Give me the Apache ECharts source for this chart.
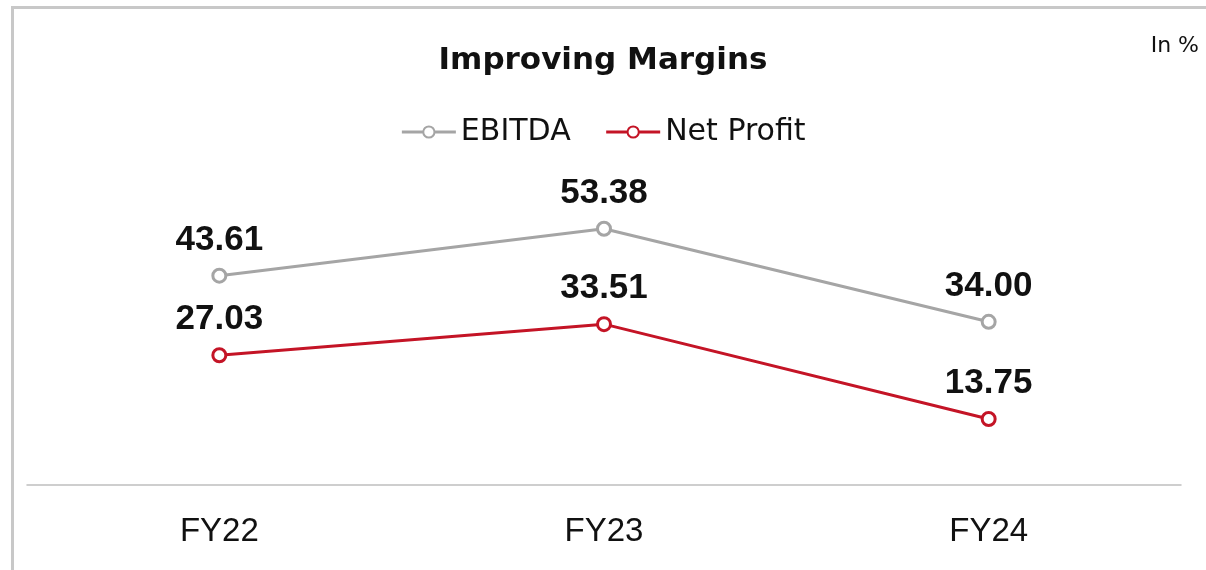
<!DOCTYPE html>
<html>
<head>
<meta charset="utf-8">
<script src="https://cdn.jsdelivr.net/npm/echarts@6/dist/echarts.min.js"></script>
<style>
  html, body { margin: 0; padding: 0; background: #fff; }
  #container { width: 1206px; height: 570px; }
</style>
</head>
<body>
<div id="container"></div>
<script>
var categories = ['FY22', 'FY23', 'FY24'];
var ebitda = [43.61, 53.38, 34.00];
var netProfit = [27.03, 33.51, 13.75];

var grey = '#a5a5a5';
var red = '#c41426';

var dom = document.getElementById("container");
var myChart = echarts.init(dom);

function labelStyle() {
    return {
        show: true,
        position: 'top',
        distance: 10,
        formatter: function (p) { return p.value.toFixed(2); },
        fontFamily: 'Liberation Sans',
        fontWeight: 'bold',
        fontSize: 35,
        color: '#111'
    };
}

var option = {
    color: [grey, red],
    title: {
        text: 'Improving Margins',
        left: 'center',
        top: 40,
        textStyle: {
            fontFamily: 'DejaVu Sans',
            fontWeight: 'bold',
            fontSize: 31,
            color: '#111'
        }
    },
    legend: {
        top: 112,
        left: 'center',
        itemWidth: 54,
        itemHeight: 14,
        itemGap: 34,
        lineStyle: { width: 3 },
        textStyle: {
            fontFamily: 'DejaVu Sans',
            fontSize: 30,
            color: '#111'
        },
        data: ['EBITDA', 'Net Profit']
    },
    grid: {
        left: 27,
        right: 25,
        top: 5,
        bottom: 85
    },
    xAxis: {
        type: 'category',
        data: categories,
        axisTick: { show: false },
        axisLine: { lineStyle: { color: '#bfbfbf', width: 1.5 } },
        axisLabel: {
            margin: 30,
            fontFamily: 'Liberation Sans',
            fontSize: 33,
            color: '#111'
        }
    },
    yAxis: {
        type: 'value',
        min: 0,
        max: 100,
        show: false,
        splitLine: { show: false }
    },
    graphic: [
        {
            type: 'rect',
            left: 10,
            top: 5,
            shape: { width: 1210, height: 590 },
            style: { fill: null, stroke: '#c8c8c8', lineWidth: 3 }
        },
        {
            type: 'text',
            right: 7,
            top: 35,
            style: {
                text: 'In %',
                fill: '#111',
                font: '22px "DejaVu Sans"'
            }
        }
    ],
    series: [
        {
            name: 'EBITDA',
            type: 'line',
            data: ebitda,
            symbol: 'circle',
            symbolSize: 13,
            lineStyle: { width: 3, color: grey },
            itemStyle: { color: '#fff', borderColor: grey, borderWidth: 3 },
            label: labelStyle()
        },
        {
            name: 'Net Profit',
            type: 'line',
            data: netProfit,
            symbol: 'circle',
            symbolSize: 13,
            lineStyle: { width: 3, color: red },
            itemStyle: { color: '#fff', borderColor: red, borderWidth: 3 },
            label: labelStyle()
        }
    ]
};
myChart.setOption(option);
</script>
</body>
</html>
